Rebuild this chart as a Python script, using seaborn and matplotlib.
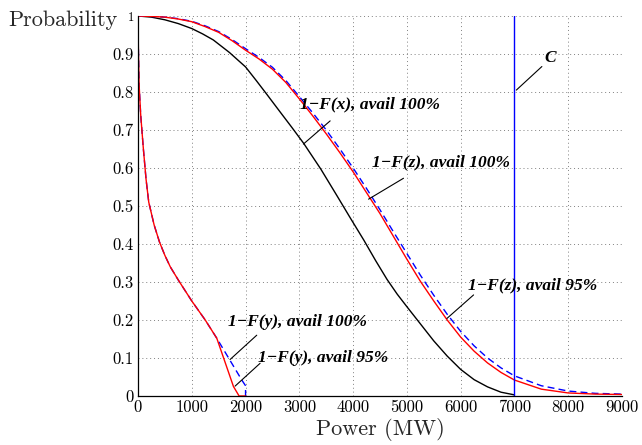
import numpy as np
import pandas as pd
import matplotlib
matplotlib.use("Agg")
import matplotlib.pyplot as plt
import seaborn as sns

# ---------------- data ----------------
x_pow = [0, 250, 500, 750, 1000, 1200, 1400, 1700, 2000, 2200, 2400, 2640, 2860, 3080, 3400, 3700,
         3950, 4200, 4420, 4630, 4820, 5000, 5250, 5500, 5750, 6000, 6250, 6500, 6750, 7000]
fx_100 = [1.0, 0.997, 0.99, 0.98, 0.967, 0.953, 0.937, 0.904, 0.866, 0.83, 0.793, 0.748, 0.707, 0.665,
          0.597, 0.527, 0.468, 0.41, 0.356, 0.307, 0.268, 0.235, 0.19, 0.145, 0.105, 0.07, 0.043,
          0.024, 0.01, 0.003]

z_pow = [0, 250, 500, 750, 1000, 1250, 1500, 1750, 2000, 2250, 2500, 2750, 3000, 3250, 3500, 3750,
         4000, 4250, 4500, 4750, 5000, 5250, 5500, 5750, 6000, 6250, 6500, 6750, 7000, 7500, 8000,
         8500, 9000]
fz_95 = [1.0, 0.999, 0.997, 0.992, 0.985, 0.972, 0.957, 0.935, 0.91, 0.887, 0.86, 0.825, 0.782, 0.737,
         0.69, 0.641, 0.59, 0.535, 0.48, 0.42, 0.36, 0.302, 0.25, 0.2, 0.155, 0.118, 0.087, 0.062,
         0.042, 0.018, 0.008, 0.005, 0.004]
fz_100 = [1.0, 0.999, 0.997, 0.993, 0.986, 0.974, 0.959, 0.938, 0.914, 0.891, 0.865, 0.83, 0.788, 0.745,
          0.70, 0.651, 0.60, 0.546, 0.49, 0.432, 0.375, 0.318, 0.265, 0.215, 0.17, 0.132, 0.10, 0.074,
          0.053, 0.027, 0.013, 0.007, 0.005]

y95_pow = [0, 5, 20, 50, 100, 150, 200, 300, 400, 500, 600, 750, 1000, 1250, 1465, 1775, 1880, 2000]
fy_95 = [1.0, 0.93, 0.82, 0.74, 0.65, 0.57, 0.51, 0.45, 0.405, 0.37, 0.34, 0.305, 0.25, 0.2, 0.152, 0.025, 0.0, 0.0]
y100_pow = [0, 5, 20, 50, 100, 150, 200, 300, 400, 500, 600, 750, 1000, 1250, 1465, 1930, 2000, 2000]
fy_100 = [1.0, 0.93, 0.82, 0.74, 0.65, 0.57, 0.51, 0.45, 0.405, 0.37, 0.34, 0.305, 0.25, 0.2, 0.152, 0.042, 0.027, 0.0]

cap_pow = [7000, 7000]
cap_prob = [0.0, 1.0]

x_ticks = [0, 1000, 2000, 3000, 4000, 5000, 6000, 7000, 8000, 9000]
y_ticks = [0, 0.1, 0.2, 0.3, 0.4, 0.5, 0.6, 0.7, 0.8, 0.9, 1.0]
y_ticklabels = ["0", "0.1", "0.2", "0.3", "0.4", "0.5", "0.6", "0.7", "0.8", "0.9", "1"]

# annotations: text, text position, line end near text, line end on curve
ann_texts = ["1\u2212F(x), avail 100%", "1\u2212F(z), avail 100%", "1\u2212F(z), avail 95%",
             "1\u2212F(y), avail 100%", "1\u2212F(y), avail 95%", "C"]
ann_text_xy = [(3015, 0.768), (4355, 0.616), (6140, 0.29), (1675, 0.195), (2233, 0.10), (7550, 0.89)]
ann_line_from = [(3573, 0.724), (4937, 0.573), (6240, 0.266), (2208, 0.160), (2270, 0.086), (7510, 0.867)]
ann_line_to = [(3076, 0.663), (4287, 0.518), (5744, 0.204), (1712, 0.096), (1805, 0.026), (7035, 0.805)]

# ---------------- figure ----------------
sns.set_style("white")
fig = plt.figure(figsize=(6.42, 4.45), dpi=100)
ax = fig.add_axes([138 / 642, 1 - 396 / 445, (622 - 138) / 642, (396 - 16) / 445])

def draw(xs, ys, color, dashes=None):
    df = pd.DataFrame({"p": xs, "v": ys})
    sns.lineplot(x="p", y="v", data=df, ax=ax, color=color, lw=1.0, sort=False, estimator=None)
    l = ax.get_lines()[-1]
    if dashes is not None:
        l.set_dashes(dashes)
    return l

draw(x_pow, fx_100, "black")
draw(z_pow, fz_100, "blue", dashes=(5, 3))
draw(z_pow, fz_95, "red")
draw(y100_pow, fy_100, "blue", dashes=(5, 3))
draw(y95_pow, fy_95, "red")
draw(cap_pow, cap_prob, "blue")

ax.set_xlim(0, 9000)
ax.set_ylim(0, 1)
ax.set_xticks(x_ticks)
ax.set_yticks(y_ticks)
ax.set_xticklabels([str(t) for t in x_ticks], fontfamily="cmr10", fontsize=12)
ax.set_yticklabels(y_ticklabels, fontfamily="cmr10", fontsize=12)
ax.get_yticklabels()[-1].set_fontsize(9)
ax.tick_params(direction="in", length=4, width=0.8, colors="black", pad=3)
ax.grid(True, linestyle=(0, (1, 3)), color="0.5", lw=0.7)
ax.set_axisbelow(True)
for s in ["top", "right"]:
    ax.spines[s].set_visible(False)
for s in ["left", "bottom"]:
    ax.spines[s].set_color("black")
    ax.spines[s].set_linewidth(0.9)

ax.set_xlabel("Power (MW)", fontfamily="cmr10", fontsize=16, labelpad=2)
ax.set_ylabel("")
fig.text(8 / 642, 1 - 20 / 445, "Probability", fontfamily="cmr10", fontsize=16, ha="left", va="center")

for t, txy, a, b in zip(ann_texts, ann_text_xy, ann_line_from, ann_line_to):
    ax.text(txy[0], txy[1], t, fontfamily="Liberation Serif", fontstyle="italic", fontweight="bold",
            fontsize=12.5, ha="left", va="center", color="black")
    ax.plot([a[0], b[0]], [a[1], b[1]], color="black", lw=0.8)

fig.savefig("out.png", dpi=100)
